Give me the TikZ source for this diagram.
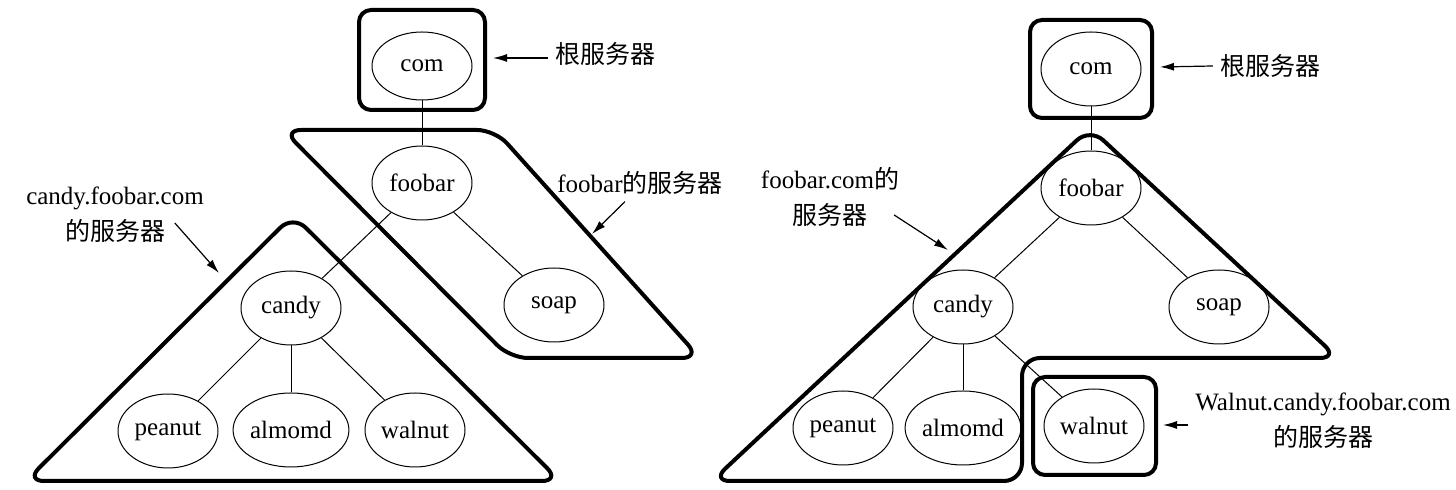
\documentclass[tikz,border=0pt]{standalone}
\usepackage{fontspec}
\setmainfont{Liberation Serif}
\newfontfamily\cjk{Noto Sans CJK SC}
\usetikzlibrary{arrows.meta,shapes.geometric,positioning}

\begin{document}
\begin{tikzpicture}[x=0.5pt,y=-0.5pt,
  every node/.style={font=\fontsize{12.5}{18}\selectfont},
  host/.style={draw,ellipse,line width=0.5pt,minimum width=50pt,minimum height=37pt,inner sep=0pt},
  zone/.style={line width=2pt,rounded corners=8pt},
  pointer/.style={-{Latex[length=7pt,width=4pt]},line width=0.6pt},
  link/.style={line width=0.5pt}]
  \useasboundingbox (0,0) rectangle (1456,490);

  % ---------------- left: zones cut at foobar ----------------
  \node[host,minimum height=34pt] (lcom) at (422,66) {com};
  \node[host] (lfoo) at (422,183) {foobar};
  \node[host] (lcandy) at (291,308) {candy};
  \node[host] (lsoap) at (554,305) {soap};
  \node[host] (lpeanut) at (168,431) {peanut};
  \node[host] (lalm) at (291,430) {almomd};
  \node[host] (lwal) at (415,430) {walnut};
  \draw[link] (lcom) -- (lfoo);
  \draw[link] (lfoo) -- (lcandy);
  \draw[link] (lfoo) -- (lsoap);
  \foreach \n in {lpeanut,lalm,lwal}
    \draw[link] (lcandy) -- (\n);

  % zone outlines
  \draw[zone,rounded corners=6pt] (359,10) rectangle (485,110);
  \draw[zone,rounded corners=9pt] (283,130) -- (495,130) -- (700,358) -- (510,358) -- cycle;
  \draw[zone,rounded corners=9pt] (293,215) -- (560,481) -- (26,481) -- cycle;

  % labels
  \node (lroot) at (605,54) {\cjk 根服务器};
  \coordinate (lroottip) at (493,58);
  \draw[pointer] ([yshift=-2pt]lroot.west) -- (lroottip);
  \node (lfoolbl) at (640,183) {foobar{\cjk 的服务器}};
  \coordinate (lfootip) at (592,234);
  \draw[pointer] ([xshift=-7.5pt]lfoolbl.south) -- (lfootip);
  \node[align=center] (lcandylbl) at (115,215) {candy.foobar.com\\{\cjk 的服务器}};
  \coordinate (lcandytip) at (219,273);
  \draw[pointer] ([xshift=-18pt,yshift=-4pt]lcandylbl.east) -- (lcandytip);

  % ---------------- right: zones cut at walnut ----------------
  \node[host] (rcom) at (1091,69) {com};
  \node[host] (rfoo) at (1091,188) {foobar};
  \node[host] (rcandy) at (963,307) {candy};
  \node[host] (rsoap) at (1219,307) {soap};
  \node[host] (rpeanut) at (843,428) {peanut};
  \node[host] (ralm) at (963,428) {almomd};
  \node[host] (rwal) at (1094,426) {walnut};
  \draw[link] (rcom) -- (rfoo);
  \draw[link] (rfoo) -- (rcandy);
  \draw[link] (rfoo) -- (rsoap);
  \foreach \n in {rpeanut,ralm,rwal}
    \draw[link] (rcandy) -- (\n);

  % zone outlines
  \draw[zone,rounded corners=6pt] (1030,20) rectangle (1152,118);
  \draw[zone,rounded corners=9pt] (1090,128) -- (1338,358) -- (1022,358) -- (1022,481) -- (712,481) -- cycle;
  \draw[zone,rounded corners=6pt] (1033,377) rectangle (1156,475);

  % labels
  \node (rroot) at (1270,66) {\cjk 根服务器};
  \coordinate (rroottip) at (1160,67);
  \draw[pointer] (rroot.west) -- (rroottip);
  \node[align=center] (rfoolbl) at (830,197) {foobar.com{\cjk 的}\\{\cjk 服务器}};
  \coordinate (rfootip) at (948,250);
  \draw[pointer] ([xshift=-6pt,yshift=-9pt]rfoolbl.east) -- (rfootip);
  \node[align=center] (rwallbl) at (1323,421) {Walnut.candy.foobar.com\\{\cjk 的服务器}};
  \coordinate (rwaltip) at (1163,425);
  \draw[pointer] ([yshift=-2pt]rwallbl.west) -- (rwaltip);
\end{tikzpicture}
\end{document}
